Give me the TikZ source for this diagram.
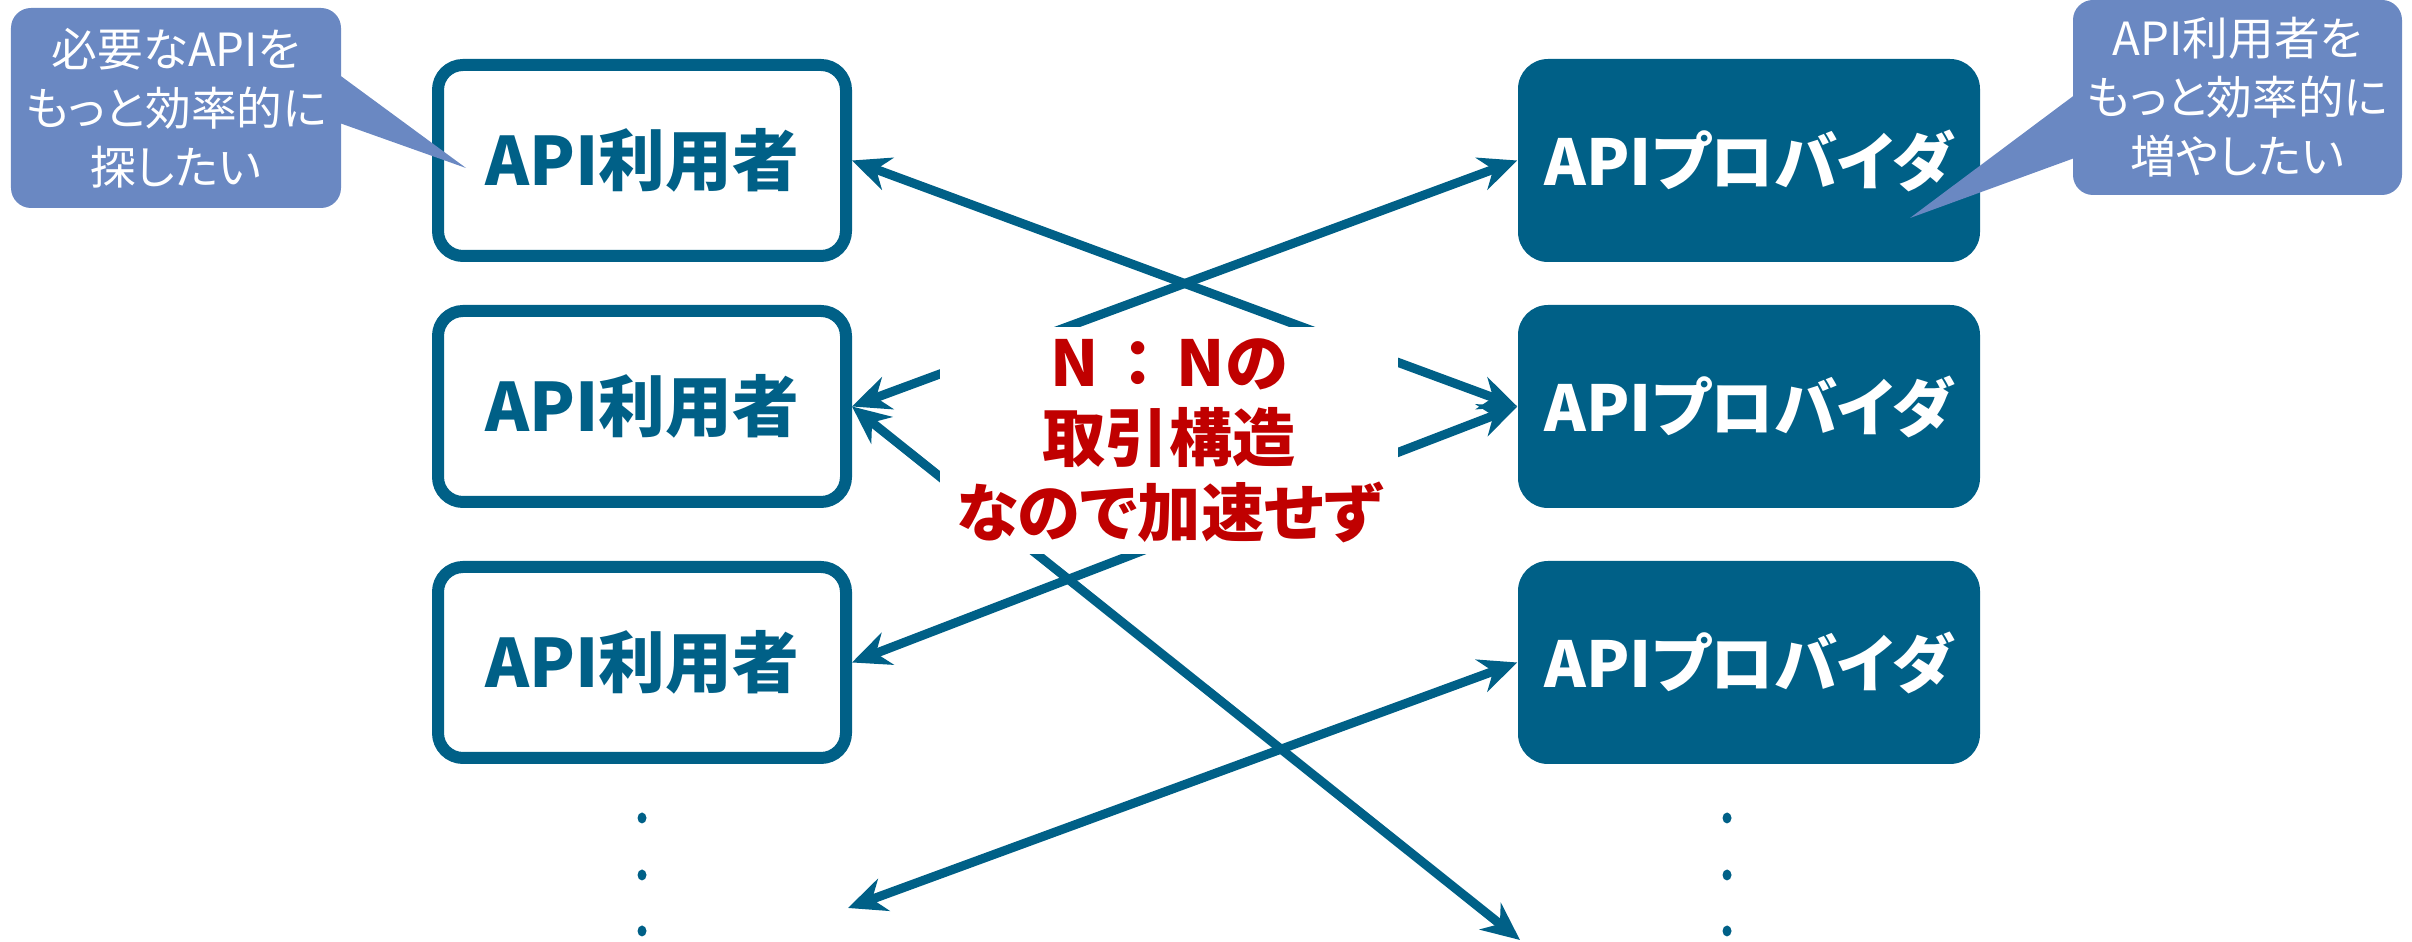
\documentclass[tikz,border=0pt]{standalone}
\usepackage{fontspec}
\setmainfont{Noto Sans CJK JP}[RawFeature=+palt]
\usetikzlibrary{arrows.meta}
\definecolor{apiblue}{RGB}{0,96,135}
\definecolor{callblue}{RGB}{106,136,194}
\definecolor{nnred}{RGB}{192,0,0}

\begin{document}
\begin{tikzpicture}[x=1cm, y=1cm]
\tikzstyle{user}=[rectangle, rounded corners=0.25cm, draw=apiblue, line width=0.12cm, fill=white, minimum width=4.08cm, minimum height=1.91cm, text=apiblue, font=\fontsize{19}{23}\selectfont\bfseries]
\tikzstyle{prov}=[rectangle, rounded corners=0.3cm, fill=apiblue, minimum width=4.62cm, minimum height=2.03cm, text=white, font=\fontsize{18}{22}\selectfont\bfseries]
\tikzstyle{link}=[apiblue, line width=0.09cm, {Stealth[length=0.38cm, width=0.34cm]}-{Stealth[length=0.38cm, width=0.34cm]}]
\tikzstyle{callout}=[rectangle, rounded corners=0.2cm, fill=callblue, text=white, align=center, font=\fontsize{13}{16.8}\selectfont]
\useasboundingbox (0,0) rectangle (24.12,-9.42);
    % users and providers
    \node [user] (u1) at (6.42,-1.605) {API利用者};
    \node [user] (u2) at (6.42,-4.065) {API利用者};
    \node [user] (u3) at (6.42,-6.625) {API利用者};
    \node [prov] (p1) at (17.49,-1.605) {APIプロバイダ};
    \node [prov] (p2) at (17.49,-4.065) {APIプロバイダ};
    \node [prov] (p3) at (17.49,-6.625) {APIプロバイダ};
    \coordinate (ue) at (8.48,-9.08);
    \coordinate (pe) at (15.20,-9.40);
    % more of them
    \fill [apiblue] (6.42,-8.18) ellipse (0.045 and 0.055);
    \fill [apiblue] (6.42,-8.75) ellipse (0.045 and 0.055);
    \fill [apiblue] (6.42,-9.31) ellipse (0.045 and 0.055);
    \fill [apiblue] (17.27,-8.18) ellipse (0.045 and 0.055);
    \fill [apiblue] (17.27,-8.75) ellipse (0.045 and 0.055);
    \fill [apiblue] (17.27,-9.31) ellipse (0.045 and 0.055);
    % n:n links
    \draw [link] (u1.east) -- (p2.west);
    \draw [link] (p1.west) -- (u2.east);
    \draw [link] (p2.west) -- (u3.east);
    \draw [link] (u2.east) -- (pe);
    \draw [link] (p3.west) -- (ue);
    \node [fill=white, text=nnred, align=center, minimum width=4.58cm, minimum height=2.23cm, font=\fontsize{18}{21.3}\selectfont\bfseries] (nn) at (11.69,-4.405) {N\hspace{0.12em}{\addfontfeature{RawFeature=-palt}：}\hspace{0.12em}Nの\\取引構造\\なので加速せず};
    % callouts
    \node [callout, minimum width=3.30cm, minimum height=2.0cm] (c1) at (1.76,-1.08) {必要なAPIを\\もっと効率的に\\探したい};
    \coordinate (t1) at (4.66,-1.68);
    \fill [callblue] ([xshift=-0.05cm, yshift=0.35cm]c1.east) -- (t1) -- ([xshift=-0.05cm, yshift=-0.14cm]c1.east) -- cycle;
    \node [callout, minimum width=3.29cm, minimum height=1.95cm] (c2) at (22.375,-0.975) {API利用者を\\もっと効率的に\\増やしたい};
    \coordinate (t2) at (19.10,-2.18);
    \fill [callblue] ([xshift=0.05cm, yshift=0.045cm]c2.west) -- (t2) -- ([xshift=0.05cm, yshift=-0.595cm]c2.west) -- cycle;
\end{tikzpicture}
\end{document}
